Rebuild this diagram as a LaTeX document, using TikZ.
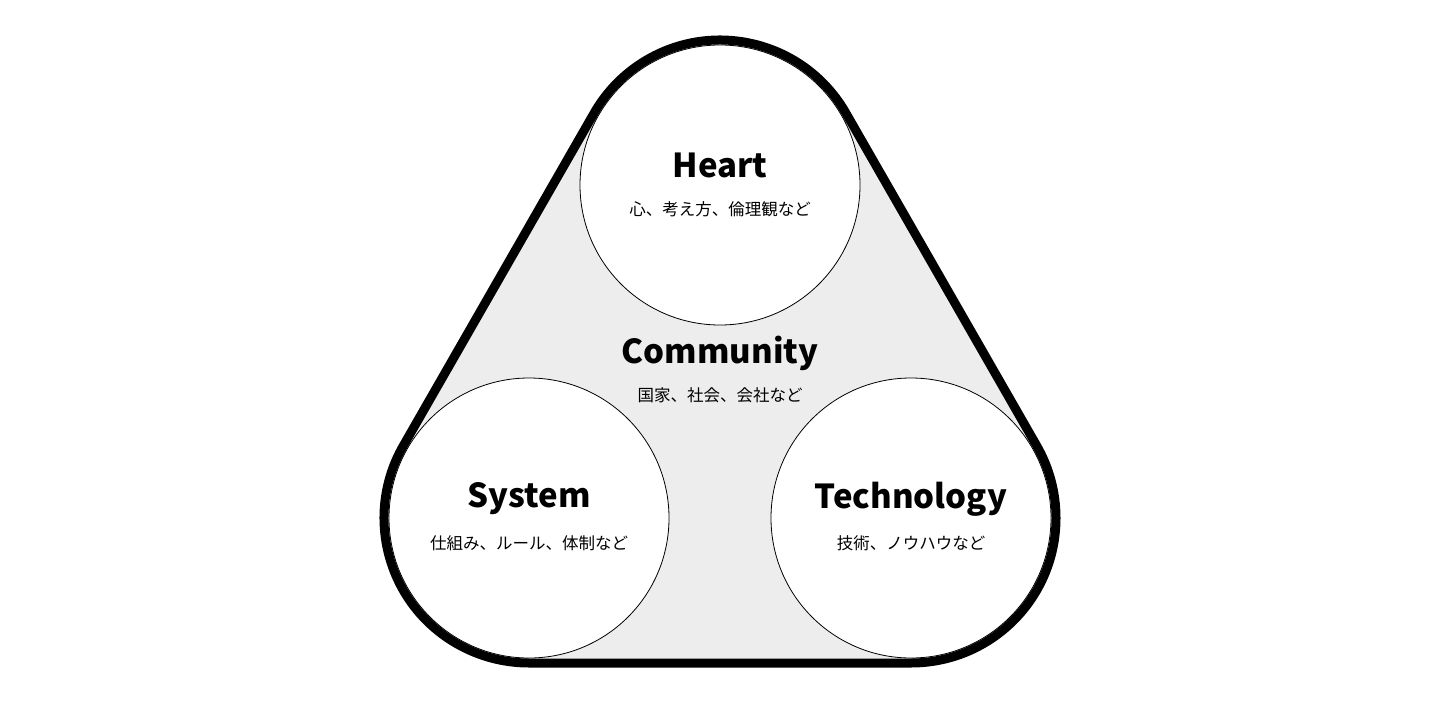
\documentclass[tikz,border=0pt]{standalone}
\usepackage{fontspec}
\setmainfont{Noto Sans CJK JP}
\usetikzlibrary{calc}
\begin{document}
\begin{tikzpicture}[x=1pt,y=1pt,
  ttl/.style={font=\bfseries\fontsize{33}{36}\selectfont,inner sep=0pt},
  sub/.style={font=\fontsize{16.5}{19}\selectfont,inner sep=0pt},
  circ/.style={draw=black,line width=0.8pt,fill=white}]
\useasboundingbox (0,0) rectangle (1440,-720);
\def\R{145}
\coordinate (A) at (720,-185);
\coordinate (B) at (529,-518);
\coordinate (C) at (911,-518);
\def\hull{($(B)+(270:\R)$) -- ($(C)+(270:\R)$) arc[start angle=-90,end angle=29.84,radius=\R]
  -- ($(A)+(29.84:\R)$) arc[start angle=29.84,end angle=150.16,radius=\R]
  -- ($(B)+(150.16:\R)$) arc[start angle=150.16,end angle=270,radius=\R] -- cycle}
\fill[gray!14] \hull;
\draw[circ] (A) circle[radius=140];
\draw[circ] (B) circle[radius=140];
\draw[circ] (C) circle[radius=140];
\draw[line width=9pt,line join=round] \hull;
\node[ttl] (ht) at (720,-165) {Heart};
\node[sub] (hs) at (720,-209) {心、考え方、倫理観など};
\node[ttl] (ct) at (720,-353) {Community};
\node[sub] (cs) at (720,-395) {国家、社会、会社など};
\node[ttl] (st) at (529,-499) {System};
\node[sub] (ss) at (529,-543) {仕組み、ルール、体制など};
\node[ttl] (tt) at (911,-499) {Technology};
\node[sub] (ts) at (911,-543) {技術、ノウハウなど};
\end{tikzpicture}
\end{document}
